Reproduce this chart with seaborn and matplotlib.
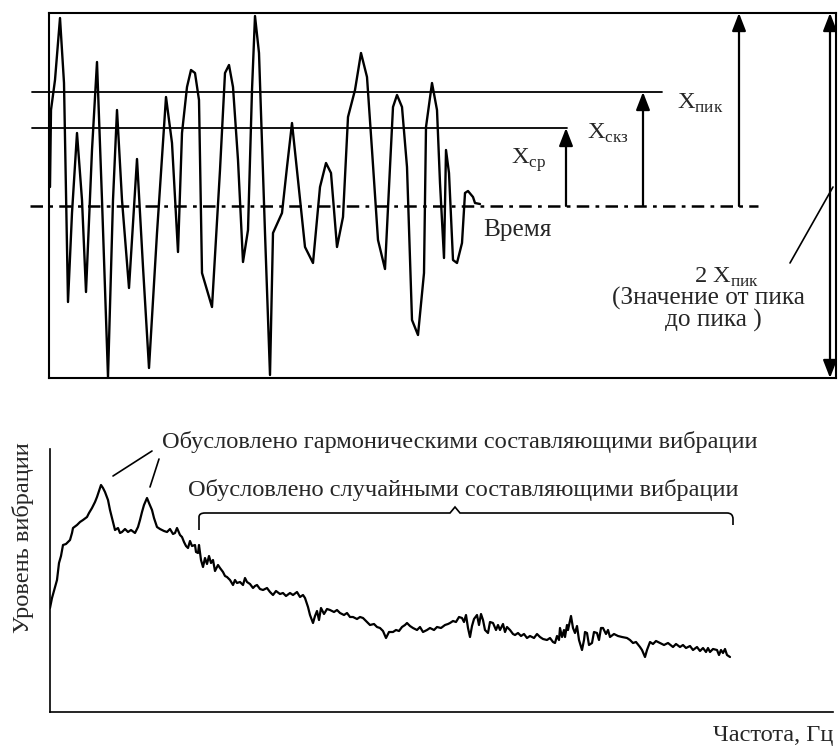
import matplotlib
matplotlib.use("Agg")
import matplotlib.pyplot as plt
import seaborn as sns
import pandas as pd
from matplotlib.path import Path
from matplotlib.patches import PathPatch

sns.set_theme(style="white")
plt.rcParams['font.family'] = ['Liberation Serif', 'DejaVu Serif']
plt.rcParams['mathtext.fontset'] = 'custom'
plt.rcParams['mathtext.rm'] = 'Liberation Serif'

# ---------------- data: time signal ----------------
time_t = [0, 1, 5, 10, 14, 18, 22, 27, 32, 36,
          42, 47, 52, 58, 63, 67, 72, 79, 87, 93,
          99, 107, 116, 122, 128, 132, 137, 141, 145, 149,
          152, 157, 162, 170, 175, 179, 183, 188, 193, 198,
          202, 205, 209, 215, 220, 223, 232, 237, 242, 248,
          255, 263, 270, 276, 281, 287, 293, 298, 305, 311,
          317, 322, 328, 335, 340, 343, 347, 352, 357, 362,
          368, 374, 376, 382, 387, 390, 394, 396, 399, 403,
          407, 412, 415, 418, 423, 425, 430]
amplitude = [19, 96, 126, 188, 123, -96, -7, 73, 6, -86,
             56, 144, 6, -171, 6, 96, 6, -82, 47, -61,
             -162, -27, 109, 63, -46, 73, 119, 136, 133, 106,
             -67, -84, -101, 36, 133, 141, 119, 46, -56, -24,
             116, 190, 153, -27, -169, -27, -7, 39, 83, 26,
             -41, -57, 19, 43, 33, -41, -11, 89, 116, 153,
             129, 56, -34, -63, 39, 99, 111, 99, 39, -114,
             -129, -67, 79, 123, 96, 23, -52, 56, 33, -54,
             -57, -37, 13, 15, 9, 3, 2]

x_peak = 114      # Xпик level
x_rms = 78        # Xскз level
x_mean = 0        # baseline
x_top = 193
x_bottom = -172

# ---------------- data: spectrum ----------------
freq = [0, 2, 5, 7, 9, 11, 13, 16, 20, 22,
        23, 27, 30, 33, 37, 39, 42, 45, 47, 49,
        51, 53, 55, 58, 60, 63, 65, 68, 70, 72,
        75, 78, 81, 85, 88, 90, 92, 94, 97, 99,
        102, 104, 107, 110, 114, 117, 120, 123, 125, 127,
        130, 132, 134, 136, 138, 140, 142, 145, 146, 148,
        149, 151, 153, 155, 157, 159, 161, 163, 165, 168,
        170, 173, 175, 177, 180, 183, 185, 187, 190, 193,
        195, 197, 200, 203, 205, 207, 210, 213, 217, 220,
        223, 226, 230, 233, 236, 240, 243, 247, 250, 253,
        255, 258, 260, 263, 265, 267, 269, 271, 274, 277,
        280, 284, 287, 290, 294, 297, 300, 303, 307, 310,
        313, 316, 320, 324, 327, 330, 333, 336, 339, 343,
        346, 349, 352, 355, 357, 360, 363, 367, 370, 373,
        377, 380, 384, 387, 391, 395, 398, 400, 403, 406,
        409, 412, 414, 416, 418, 420, 422, 424, 427, 429,
        431, 433, 435, 438, 440, 443, 446, 448, 450, 453,
        455, 457, 460, 463, 465, 468, 471, 474, 477, 480,
        484, 487, 490, 493, 497, 500, 503, 505, 507, 509,
        510, 512, 514, 515, 517, 518, 521, 523, 525, 527,
        529, 532, 534, 535, 537, 539, 542, 544, 547, 549,
        551, 553, 556, 558, 560, 564, 568, 572, 577, 580,
        583, 586, 590, 592, 595, 597, 600, 603, 606, 610,
        614, 618, 623, 626, 630, 633, 636, 640, 643, 647,
        650, 653, 656, 658, 660, 663, 667, 669, 671, 673,
        675, 677, 680]
level = [104, 114, 125, 132, 149, 156, 167, 168, 172, 179,
         184, 187, 190, 192, 195, 199, 204, 210, 215, 221,
         227, 224, 220, 212, 202, 190, 182, 184, 179, 180,
         183, 180, 182, 179, 185, 192, 200, 207, 214, 209,
         202, 194, 185, 183, 181, 180, 183, 178, 179, 184,
         177, 175, 170, 166, 164, 171, 166, 167, 160, 159,
         167, 152, 145, 154, 148, 156, 149, 152, 141, 147,
         144, 140, 136, 135, 132, 127, 132, 129, 130, 127,
         134, 130, 128, 124, 126, 127, 123, 122, 124, 120,
         117, 121, 118, 119, 116, 119, 117, 120, 115, 117,
         114, 105, 97, 89, 96, 101, 92, 104, 98, 103,
         102, 100, 102, 99, 97, 99, 95, 95, 93, 95,
         94, 91, 87, 88, 85, 84, 81, 74, 80, 80,
         82, 81, 85, 87, 89, 86, 84, 82, 85, 80,
         82, 84, 82, 85, 84, 87, 88, 89, 91, 90,
         95, 94, 90, 97, 84, 75, 86, 93, 97, 87,
         98, 92, 82, 79, 90, 89, 82, 87, 82, 88,
         80, 85, 82, 78, 77, 79, 76, 78, 74, 76,
         74, 78, 75, 73, 72, 74, 70, 69, 76, 72,
         84, 75, 82, 75, 87, 82, 96, 84, 79, 86,
         72, 62, 72, 80, 79, 67, 69, 80, 79, 72,
         84, 84, 78, 82, 75, 78, 76, 75, 74, 72,
         69, 70, 65, 62, 55, 62, 70, 68, 71, 69,
         67, 69, 65, 68, 65, 67, 64, 66, 62, 65,
         61, 64, 60, 64, 60, 63, 62, 57, 62, 59,
         63, 57, 55]

texts_harm = "Обусловлено гармоническими составляющими вибрации"
texts_rand = "Обусловлено случайными составляющими вибрации"
ylabel_txt = "Уровень вибрации"
xlabel_txt = "Частота, Гц"

W, H = 840, 747
fig = plt.figure(figsize=(W / 100, H / 100), dpi=100)


def fx(x):
    return x / W


def fy(y):
    return 1 - y / H


FS = 17.6
FS_TOP = 18.2
LW = 1.5

# ---------------- top panel ----------------
ax1 = fig.add_axes([fx(49), fy(378), (836 - 49) / W, (378 - 13) / H])
sig = pd.DataFrame({"t": time_t, "x": amplitude})
sns.lineplot(data=sig, x="t", y="x", ax=ax1, color="black", lw=1.7,
             estimator=None, sort=False)
ax1.set_xlim(-1, 786)
ax1.set_ylim(x_bottom, x_top)
ax1.set_xticks([])
ax1.set_yticks([])
ax1.set_xlabel("")
ax1.set_ylabel("")
for s in ax1.spines.values():
    s.set_color("black")
    s.set_linewidth(LW)

ax1.plot([-18, 612], [x_peak, x_peak], color="black", lw=1.3, clip_on=False)
ax1.plot([-18, 517], [x_rms, x_rms], color="black", lw=1.3, clip_on=False)
ax1.plot([-20, 708], [x_mean, x_mean], color="black", lw=1.8,
         ls=(0, (5, 2.5, 1.5, 2.5)), clip_on=False, zorder=1)

arr = dict(arrowstyle="-|>,head_length=0.9,head_width=0.35", color="black",
           lw=1.6, shrinkA=0, shrinkB=0)
ax1.annotate("", xy=(516, x_rms), xytext=(516, x_mean), arrowprops=arr)
ax1.annotate("", xy=(593, x_peak), xytext=(593, x_mean), arrowprops=arr)
ax1.annotate("", xy=(689, x_top), xytext=(689, x_mean), arrowprops=arr)
arr2 = dict(arrowstyle="<|-|>,head_length=0.9,head_width=0.35", color="black",
            lw=1.6, shrinkA=0, shrinkB=0)
ax1.annotate("", xy=(780, x_top), xytext=(780, x_bottom), arrowprops=arr2,
             annotation_clip=False)
ax1.plot([740, 783], [-57, 19], color="black", lw=1.2)

fig.text(fx(483), fy(230), "Время", fontsize=FS_TOP, va="center", ha="left")
fig.text(fx(511), fy(160), r"X$_{\mathregular{ср}}$", fontsize=FS, va="center", ha="left")
fig.text(fx(587), fy(133), r"X$_{\mathregular{скз}}$", fontsize=FS, va="center", ha="left")
fig.text(fx(677), fy(103), r"X$_{\mathregular{пик}}$", fontsize=FS, va="center", ha="left")
fig.text(fx(694), fy(277), r"2 X$_{\mathregular{пик}}$", fontsize=FS, va="center", ha="left")
fig.text(fx(708), fy(298), "(Значение от пика", fontsize=FS_TOP, va="center", ha="center")
fig.text(fx(713), fy(320), "до пика )", fontsize=FS_TOP, va="center", ha="center")

# ---------------- bottom panel ----------------
ax2 = fig.add_axes([fx(50), fy(712), (833 - 50) / W, (712 - 449) / H])
spec = pd.DataFrame({"f": freq, "lvl": level})
sns.lineplot(data=spec, x="f", y="lvl", ax=ax2, color="black", lw=1.6,
             estimator=None, sort=False)
ax2.set_xlim(0, 783)
ax2.set_ylim(0, 263)
ax2.set_xticks([])
ax2.set_yticks([])
ax2.set_xlabel("")
ax2.set_ylabel("")
ax2.spines["top"].set_visible(False)
ax2.spines["right"].set_visible(False)
for k in ("left", "bottom"):
    ax2.spines[k].set_color("black")
    ax2.spines[k].set_linewidth(1.2)

# pointer lines to harmonic peaks
ax2.plot([63, 102], [236, 261], color="black", lw=1.2, clip_on=False)
ax2.plot([100, 109], [225, 253], color="black", lw=1.2, clip_on=False)

# brace over random part
verts = [(149, 182), (149, 195), (149, 199), (155, 199),
         (400, 199), (405, 205), (410, 199),
         (677, 199), (683, 199), (683, 193), (683, 187)]
codes = [Path.MOVETO, Path.LINETO, Path.CURVE3, Path.CURVE3,
         Path.LINETO, Path.LINETO, Path.LINETO,
         Path.LINETO, Path.CURVE3, Path.CURVE3, Path.LINETO]
ax2.add_patch(PathPatch(Path(verts, codes), fill=False, lw=1.2,
                        edgecolor="black", clip_on=False))

fig.text(fx(162), fy(442), texts_harm, fontsize=FS, va="center", ha="left")
fig.text(fx(188), fy(490), texts_rand, fontsize=FS, va="center", ha="left")
fig.text(fx(833), fy(735), xlabel_txt, fontsize=FS, va="center", ha="right")
fig.text(fx(23), fy(538), ylabel_txt, fontsize=FS, va="center", ha="center",
         rotation=90)

fig.savefig("out.png", dpi=100)
